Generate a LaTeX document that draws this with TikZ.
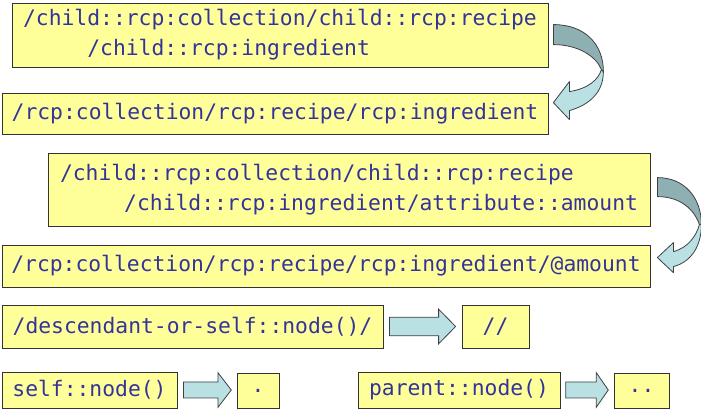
\documentclass[tikz,border=0pt]{standalone}
\usepackage{fontspec}
\setmonofont{DejaVu Sans Mono}
\usetikzlibrary{calc}
\definecolor{boxfill}{HTML}{FFFF99}
\definecolor{txtblue}{HTML}{333399}
\definecolor{arrlight}{HTML}{B9E1E4}
\definecolor{arrdark}{HTML}{8FB0B3}

\begin{document}
\begin{tikzpicture}[x=0.75pt, y=-0.75pt,
    pathbox/.style={draw=black!80, fill=boxfill, text=txtblue, line width=0.6pt,
        font=\ttfamily\fontsize{16}{22.5}\selectfont, align=left, inner sep=0pt},
    curvedark/.style={draw=black!75, fill=arrdark, line width=0.6pt, line join=round},
    curvelight/.style={draw=black!75, fill=arrlight, line width=0.6pt, line join=round},
    blockarrow/.style 2 args={draw=black!75, fill=arrlight, line width=0.6pt,
        to path={let \p1=(\tikztostart), \p2=(\tikztotarget) in
            (\x1,\y1+#1) -- (\x2-#2,\y1+#1) -- (\x2-#2,\y1+13pt) -- (\x2,\y1)
            -- (\x2-#2,\y1-13pt) -- (\x2-#2,\y1-#1) -- (\x1,\y1-#1) -- cycle}}]
    \useasboundingbox (0,0) rectangle (701,409);

    % long forms and their abbreviations
    \node[pathbox, minimum width=402pt, minimum height=48pt] (fullpath) at (280,35)
        {/child::rcp:collection/child::rcp:recipe\\\phantom{xxxxx}/child::rcp:ingredient};
    \node[pathbox, minimum width=409.5pt, minimum height=30.75pt] (shortpath) at (275,113.5)
        {/rcp:collection/rcp:recipe/rcp:ingredient};
    \node[pathbox, minimum width=451.5pt, minimum height=54.75pt] (fullattr) at (349,189.5)
        {/child::rcp:collection/child::rcp:recipe\\\phantom{xxxxx}/child::rcp:ingredient/attribute::amount};
    \node[pathbox, minimum width=486pt, minimum height=31.5pt] (shortattr) at (326,266)
        {/rcp:collection/rcp:recipe/rcp:ingredient/@amount};

    \begin{scope}[shift={(fullpath.north east)}]
        \filldraw[curvedark] (5,22) .. controls (37,22) and (55,42) .. (55,69) -- (53,67)
            .. controls (48,54) and (30,42) .. (5,42) -- cycle;
        \filldraw[curvelight] (53,67) .. controls (50,77) and (40,86) .. (21,89) -- (21,79)
            -- (5,100) -- (21,117) -- (21,108) .. controls (42,102) and (55,89) .. (55,69) -- cycle;
    \end{scope}
    \begin{scope}[shift={(fullattr.north east)}]
        \filldraw[curvedark] (7,25) .. controls (34,25) and (51,45) .. (51,72) -- (49,72)
            .. controls (44,57) and (30,44) .. (7,44) -- cycle;
        \filldraw[curvelight] (49,72) .. controls (46,83) and (38,95) .. (23,99) -- (23,90)
            -- (7,105) -- (23,120) -- (23,114) .. controls (42,109) and (51,92) .. (51,72) -- cycle;
    \end{scope}

    % axis shortcuts
    \node[pathbox, minimum width=285.75pt, minimum height=32.25pt] (descself) at (192.5,326.5)
        {/descendant-or-self::node()/};
    \node[pathbox, minimum width=50.25pt, minimum height=32.25pt] (dslash) at (495.5,326.5) {//};
    \node[pathbox, minimum width=131.25pt, minimum height=27pt] (selfnode) at (89.5,390) {self::node()};
    \node[pathbox, minimum width=31.5pt, minimum height=26.25pt] (dot) at (258,390.5) {.};
    \node[pathbox, minimum width=151.5pt, minimum height=27pt] (parentnode) at (459,390) {parent::node()};
    \node[pathbox, minimum width=41.25pt, minimum height=26.25pt] (ddot) at (641.5,390.5) {..};

    \draw[blockarrow={7pt}{12.75pt}] ([xshift=4.5pt]descself.east) to ([xshift=-4.5pt]dslash.west);
    \draw[blockarrow={6pt}{10pt}] ([xshift=4.5pt]selfnode.east) to ([xshift=-4pt]dot.west);
    \draw[blockarrow={6pt}{9pt}] ([xshift=4pt]parentnode.east) to ([xshift=-4pt]ddot.west);
\end{tikzpicture}
\end{document}
